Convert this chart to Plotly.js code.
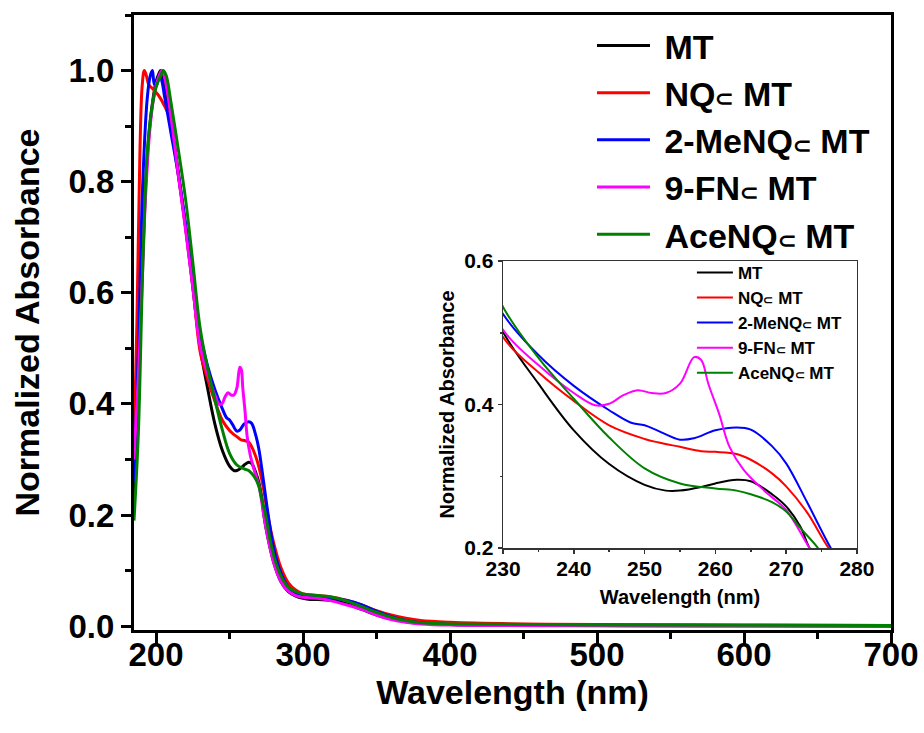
<!DOCTYPE html>
<html>
<head>
<meta charset="utf-8">
<script src="https://cdn.plot.ly/plotly-3.0.1.min.js"></script>
<style>html,body{margin:0;padding:0;background:#fff}#chart{width:924px;height:733px}</style>
</head>
<body>
<div id="chart"></div>
<script>
// Series names
const seriesNames = ["MT", "NQ\u2282 MT", "2-MeNQ\u2282 MT", "9-FN\u2282 MT", "AceNQ\u2282 MT"];
const seriesColors = ["#000000", "#ff0000", "#0000ff", "#ff00ff", "#008000"];

// MT
const mtX = [185,188,190,193,195,198,200,202,203,204,206,210,215,220,225,230,235,240,245,250,253,255,258,260,263,265,268,270,272,273.3,276,280,285,290,295,300,305,310,320,330,340,350,360,370,380,400,450,500,600,700];
const mtY = [0.22,0.45,0.6,0.8,0.88,0.95,0.98,0.995,1.0,0.995,0.97,0.91,0.82,0.72,0.61,0.501,0.429,0.364,0.317,0.288,0.280,0.280,0.285,0.290,0.295,0.293,0.275,0.258,0.230,0.20,0.16,0.115,0.08,0.062,0.054,0.05,0.048,0.048,0.046,0.04,0.03,0.02,0.013,0.008,0.005,0.003,0.002,0.001,0.0005,0];

// NQ⊂MT
const nqX = [185,187,189,190.5,192,193.5,195,199,203,206,209.4,213,217.6,220,225,230,235,240,245,250,252,255,258,260,263,265,268,270,273,276,280,285,290,295,300,310,320,330,340,350,360,370,380,400,450,500,600,700];
const nqY = [0.32,0.55,0.85,0.97,1.0,0.99,0.975,0.964,0.95,0.935,0.915,0.85,0.766,0.72,0.615,0.494,0.445,0.405,0.371,0.352,0.347,0.341,0.335,0.334,0.331,0.323,0.304,0.286,0.249,0.2,0.15,0.105,0.078,0.065,0.058,0.055,0.052,0.046,0.038,0.028,0.02,0.014,0.01,0.007,0.004,0.003,0.002,0.001];

// 2-MeNQ⊂MT
const meX = [185,188,191,194,196,197.5,199,200.5,202,203.5,206,210,215,220,225,230,235,240,245,248,250,252,255,257,260,263,265,268,270,273,276.3,280,285,290,295,300,310,320,330,340,350,360,370,380,400,500,700];
const meY = [0.26,0.5,0.8,0.95,0.99,1.0,0.975,0.975,0.99,0.985,0.95,0.89,0.815,0.725,0.625,0.526,0.469,0.426,0.392,0.375,0.371,0.363,0.351,0.353,0.364,0.368,0.365,0.342,0.318,0.263,0.2,0.14,0.095,0.07,0.058,0.053,0.052,0.05,0.046,0.038,0.027,0.017,0.01,0.006,0.003,0.001,0];

// 9-FN⊂MT
const fnX = [185,188,190,193,196,199,202,204,206,210,215,220,225,230,235,240,243,245,247,249,251,253,255,257,258,259,260.5,262,264,267,270,273.3,276,280,285,290,295,300,310,320,330,340,350,360,370,380,400,700];
const fnY = [0.30,0.45,0.58,0.78,0.9,0.96,0.99,1.0,0.985,0.92,0.815,0.715,0.61,0.504,0.455,0.416,0.399,0.401,0.413,0.420,0.416,0.416,0.429,0.466,0.462,0.429,0.388,0.341,0.309,0.279,0.253,0.20,0.16,0.115,0.08,0.063,0.055,0.052,0.05,0.045,0.038,0.03,0.02,0.012,0.007,0.004,0.002,0];

// AceNQ⊂MT
const aceX = [185,188,191,194,197,200,203,205,207,210,215,220,225,230,235,240,245,250,255,260,263,265,268,270,272,274.5,278,282,286,290,295,300,310,320,330,340,350,360,370,380,400,500,700];
const aceY = [0.19,0.35,0.65,0.85,0.93,0.97,0.99,1.0,0.99,0.945,0.86,0.77,0.655,0.536,0.465,0.408,0.354,0.311,0.290,0.283,0.280,0.275,0.264,0.251,0.228,0.20,0.15,0.11,0.085,0.07,0.062,0.058,0.055,0.052,0.045,0.035,0.025,0.016,0.01,0.006,0.004,0.002,0.001];

const xs = [mtX, nqX, meX, fnX, aceX];
const ys = [mtY, nqY, meY, fnY, aceY];

const FONT = "Liberation Sans, Arial, Helvetica, sans-serif";
function legendLabel(name, subSize) {
  return name.replace("\u2282", "<span style='font-size:" + subSize + "px'>\u2282</span>");
}
const traces = [];
for (let i = 0; i < 5; i++) {
  traces.push({
    x: xs[i], y: ys[i], type: "scatter", mode: "lines",
    name: "\u00a0" + legendLabel(seriesNames[i], 22), legendgroup: "m" + i, legend: "legend",
    line: {color: seriesColors[i], width: 3, shape: "spline", smoothing: 1},
    xaxis: "x", yaxis: "y", hoverinfo: "skip"
  });
}
for (let i = 0; i < 5; i++) {
  traces.push({
    x: xs[i], y: ys[i], type: "scatter", mode: "lines",
    name: legendLabel(seriesNames[i], 12), legendgroup: "i" + i, legend: "legend2",
    line: {color: seriesColors[i], width: 2, shape: "spline", smoothing: 1},
    xaxis: "x2", yaxis: "y2", hoverinfo: "skip"
  });
}

const layout = {
  width: 924, height: 733,
  margin: {l: 134, r: 33, t: 15, b: 103},
  paper_bgcolor: "#ffffff", plot_bgcolor: "#ffffff",
  font: {family: FONT, color: "#000", weight: 700},
  showlegend: true,
  xaxis: {
    domain: [0, 1], range: [185, 700], dtick: 100, tick0: 0,
    showgrid: false, zeroline: false, showline: true, linewidth: 3, linecolor: "#000", mirror: true,
    ticks: "outside", ticklen: 11, tickwidth: 3, tickcolor: "#000",
    minor: {dtick: 50, tick0: 0, ticks: "outside", ticklen: 6, tickwidth: 3, tickcolor: "#000", showgrid: false},
    tickfont: {family: FONT, size: 33, weight: 700}, ticklabelstandoff: -18,
    title: {text: "Wavelength (nm)", font: {family: FONT, size: 34, weight: 700}, standoff: 0},
    automargin: false
  },
  yaxis: {
    domain: [0, 1], range: [-0.007, 1.1], dtick: 0.2, tick0: 0, tickformat: ".1f",
    showgrid: false, zeroline: false, showline: true, linewidth: 3, linecolor: "#000", mirror: true,
    ticks: "outside", ticklen: 10, tickwidth: 3, tickcolor: "#000",
    minor: {dtick: 0.1, tick0: 0, ticks: "outside", ticklen: 6, tickwidth: 3, tickcolor: "#000", showgrid: false},
    tickfont: {family: FONT, size: 33, weight: 700},
    title: {text: "Normalized Absorbance", font: {family: FONT, size: 34, weight: 700}, standoff: 19},
    automargin: false
  },
  xaxis2: {
    domain: [0.4875, 0.955], anchor: "y2", range: [230, 280], dtick: 10,
    showgrid: false, zeroline: false, showline: true, linewidth: 1.5, linecolor: "#333", mirror: true,
    ticks: "outside", ticklen: 4, tickwidth: 1.5, tickcolor: "#333",
    minor: {dtick: 5, ticks: "outside", ticklen: 2, tickwidth: 1.5, tickcolor: "#333", showgrid: false},
    tickfont: {family: FONT, size: 21, weight: 700}, ticklabelstandoff: -3,
    title: {text: "Wavelength (nm)", font: {family: FONT, size: 20, weight: 700}, standoff: 11},
    automargin: false
  },
  yaxis2: {
    domain: [0.1333, 0.6], anchor: "x2", range: [0.2, 0.6], dtick: 0.2, tickformat: ".1f",
    showgrid: false, zeroline: false, showline: true, linewidth: 1.5, linecolor: "#333", mirror: true,
    ticks: "outside", ticklen: 4, tickwidth: 1.5, tickcolor: "#333",
    minor: {dtick: 0.1, ticks: "outside", ticklen: 2, tickwidth: 1.5, tickcolor: "#333", showgrid: false},
    tickfont: {family: FONT, size: 21, weight: 700},
    title: {text: "Normalized Absorbance", font: {family: FONT, size: 20, weight: 700}, standoff: 4},
    automargin: false
  },
  legend: {
    x: 0.605, y: 0.997, xanchor: "left", yanchor: "top",
    bgcolor: "rgba(0,0,0,0)", borderwidth: 0,
    font: {family: FONT, size: 34, weight: 700},
    itemwidth: 53, tracegroupgap: 0, traceorder: "grouped"
  },
  legend2: {
    x: 0.737, y: 0.61, xanchor: "left", yanchor: "top",
    bgcolor: "rgba(0,0,0,0)", borderwidth: 0,
    font: {family: FONT, size: 17, weight: 700},
    itemwidth: 36, tracegroupgap: 0, traceorder: "grouped"
  }
};

Plotly.newPlot("chart", traces, layout, {staticPlot: true, displayModeBar: false});
</script>
</body>
</html>
